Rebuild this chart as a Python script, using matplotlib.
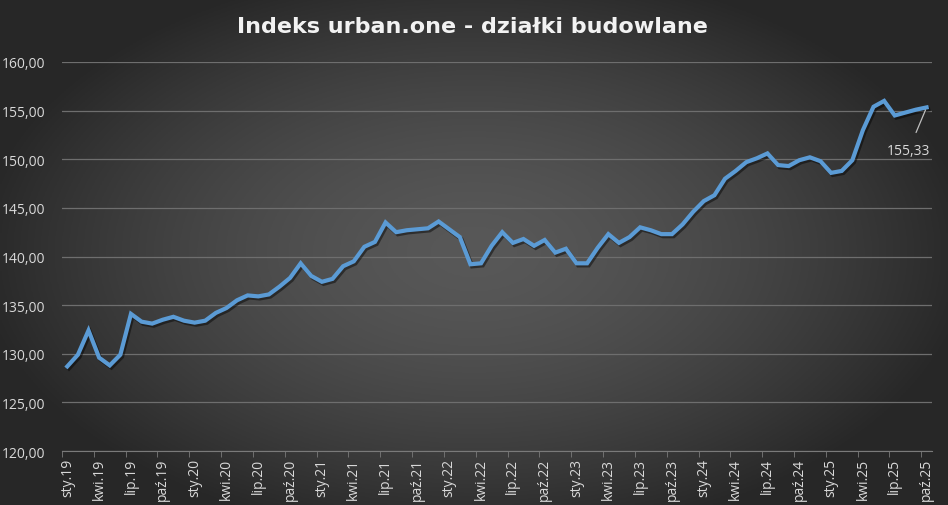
import numpy as np
import matplotlib.pyplot as plt
import matplotlib.patheffects as pe

# miesięczne wartości indeksu, sty.2019 - paź.2025
months = ['sty', 'lut', 'mar', 'kwi', 'maj', 'cze', 'lip', 'sie', 'wrz', 'paź', 'lis', 'gru']
years = ['19', '20', '21', '22', '23', '24', '25']
categories = [m + '.' + y for y in years for m in months][:82]

values = [
    128.7, 129.9, 132.4, 129.6, 128.8, 129.9, 134.1, 133.3, 133.1, 133.5, 133.8, 133.4,
    133.2, 133.4, 134.2, 134.7, 135.5, 136.0, 135.9, 136.1, 136.9, 137.8, 139.3, 138.0,
    137.4, 137.7, 139.0, 139.5, 141.0, 141.5, 143.5, 142.5, 142.7, 142.8, 142.9, 143.6,
    142.8, 142.0, 139.2, 139.3, 141.1, 142.5, 141.4, 141.8, 141.1, 141.7, 140.4, 140.8,
    139.3, 139.3, 140.9, 142.3, 141.4, 142.0, 143.0, 142.7, 142.3, 142.3, 143.3, 144.6,
    145.7, 146.3, 148.0, 148.8, 149.7, 150.1, 150.6, 149.4, 149.3, 149.9, 150.2, 149.8,
    148.6, 148.8, 149.9, 153.0, 155.4, 156.0, 154.5, 154.8, 155.1, 155.33,
]
yticks = [120, 125, 130, 135, 140, 145, 150, 155, 160]

fig = plt.figure(figsize=(9.48, 5.06), dpi=100)

# tło - gradient radialny
bg = fig.add_axes([0, 0, 1, 1])
gx, gy = np.meshgrid(np.linspace(-1, 1, 400), np.linspace(-1, 1, 220))
r = np.clip(np.sqrt((gx / 1.05) ** 2 + (gy / 1.15) ** 2), 0, 1)
shade = 0.345 - 0.19 * r ** 1.6
bg.imshow(np.dstack([shade, shade, shade]), aspect='auto', extent=[0, 1, 0, 1])
bg.axis('off')

ax = fig.add_axes([0.0654, 0.1067, 0.9176, 0.7688])
ax.patch.set_alpha(0)

x = np.arange(len(values))
ax.plot(x, values, color='#5b9bd5', lw=3.0, solid_joinstyle='miter',
        path_effects=[pe.SimpleLineShadow(offset=(1.2, -1.5), shadow_color='black', alpha=0.45),
                      pe.Normal()], zorder=3)

ax.set_xlim(-0.5, len(values) - 0.5)
ax.set_ylim(120, 160)
ax.set_yticks(yticks)
ax.set_yticklabels([f'{v:.2f}'.replace('.', ',') for v in yticks])
ax.grid(axis='y', color='#6e6e6e', lw=0.9)
ax.set_axisbelow(True)

ax.set_xticks(x[::3])
ax.set_xticklabels(categories[::3], rotation=90)
ax.set_xticks(x[::3] - 0.5, minor=True)
ax.tick_params(axis='x', which='major', length=0, pad=5, colors='#d9d9d9', labelsize=10)
ax.tick_params(axis='x', which='minor', length=4, color='#7a7a7a')
ax.tick_params(axis='y', length=0, pad=12, colors='#d9d9d9', labelsize=10)
for lab in ax.get_xticklabels() + ax.get_yticklabels():
    lab.set_fontfamily('Open Sans')

for s in ['top', 'right', 'left']:
    ax.spines[s].set_visible(False)
ax.spines['bottom'].set_color('#7a7a7a')

ax.annotate('155,33', xy=(x[-1], values[-1]), xytext=(-13, -31), textcoords='offset points',
            ha='center', va='center', color='#d9d9d9', fontsize=10, family='Open Sans',
            arrowprops=dict(arrowstyle='-', color='#bfbfbf', lw=0.9, shrinkA=6, shrinkB=2))

fig.text(0.498, 0.946, 'Indeks urban.one - działki budowlane', ha='center', va='center',
         color='#f2f2f2', fontsize=16, fontweight='bold', family='DejaVu Sans')

fig.savefig('out.png', dpi=100)
